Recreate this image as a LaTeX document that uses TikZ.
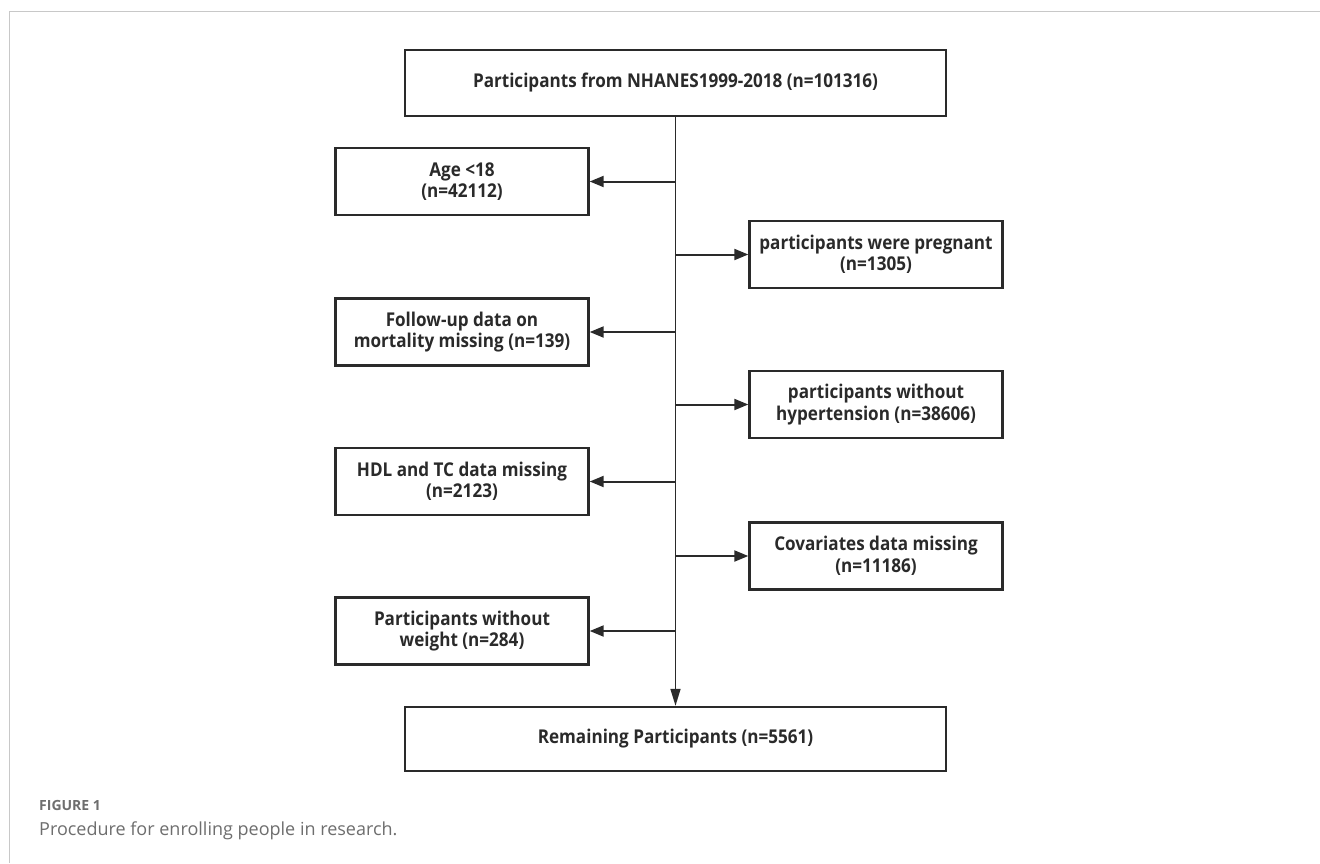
\documentclass[tikz,border=0pt]{standalone}
\usepackage{fontspec}
\setmainfont{Open Sans}
\newfontfamily\boxfont{Open Sans}[FakeStretch=0.9]
\usetikzlibrary{arrows.meta}
\definecolor{boxc}{HTML}{2A2A2A}
\definecolor{framec}{HTML}{C8C8C8}
\definecolor{capc}{HTML}{6E6E6E}
\begin{document}
\begin{tikzpicture}[x=1pt,y=-1pt,
  flowbox/.style={draw=boxc, line width=2.4pt, rectangle, inner sep=0pt,
    align=center, font=\boxfont\bfseries\fontsize{19}{21.5}\selectfont, text=boxc},
  widebox/.style={flowbox, minimum width=541pt, minimum height=66pt},
  sidebox/.style={flowbox, minimum width=253pt, minimum height=67pt},
  conn/.style={draw=boxc, line width=2pt, -{Triangle[length=14pt,width=11pt]}},
  mainconn/.style={draw=boxc, line width=1.6pt, -{Triangle[length=17pt,width=10pt]}}
]
\useasboundingbox (0,0) rectangle (1320,863);
\fill[white] (0,0) rectangle (1320,863);
\coordinate (fa) at (9,863);
\coordinate (fb) at (9,11.5);
\coordinate (fc) at (1320,11.5);
\draw[framec, line width=1pt] (fa) -- (fb) -- (fc);

\node[widebox] (top) at (675.5,83) {Participants from NHANES1999-2018 (n=101316)};
\node[sidebox] (age) at (462,181.5) {Age \textless18\\(n=42112)};
\node[sidebox] (preg) at (876,254.5) {participants were pregnant\\(n=1305)};
\node[sidebox] (follow) at (462,332) {Follow-up data on\\mortality missing (n=139)};
\node[sidebox] (hyper) at (876,404.5) {participants without\\hypertension (n=38606)};
\node[sidebox] (hdl) at (462,481.5) {HDL and TC data missing\\(n=2123)};
\node[sidebox] (cov) at (876,556) {Covariates data missing\\(n=11186)};
\node[sidebox] (weight) at (462,631) {Participants without\\weight (n=284)};
\node[widebox, minimum height=64pt] (rem) at (675.5,739) {Remaining Participants (n=5561)};

\draw[mainconn] (top.south) -- (rem.north);
\foreach \b in {age,follow,hdl,weight}{
  \draw[conn] (top.south |- \b.east) -- (\b.east);
}
\foreach \b in {preg,hyper,cov}{
  \draw[conn] (top.south |- \b.west) -- (\b.west);
}

\node[anchor=base west, inner sep=0pt, text=capc, font=\bfseries\fontsize{14}{16}\selectfont] (fig) at (39,810) {FIGURE 1};
\node[anchor=base west, inner sep=0pt, text=capc, font=\fontsize{18}{21}\selectfont] (cap) at (39,835) {Procedure for enrolling people in research.};
\end{tikzpicture}
\end{document}
